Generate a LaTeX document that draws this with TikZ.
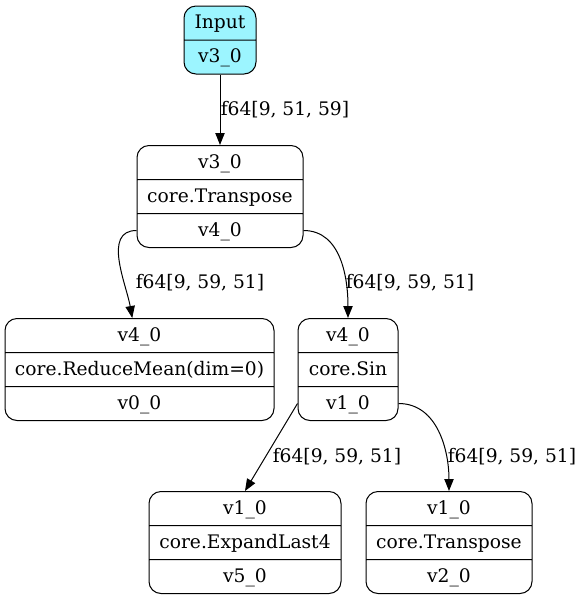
\documentclass[tikz,border=0pt]{standalone}
\usepackage{fontspec}
\setmainfont{DejaVu Serif}
\usetikzlibrary{arrows.meta,shapes.multipart,positioning}

\newcommand{\rs}{\rule[-8pt]{0pt}{24.75pt}}
\definecolor{inputcyan}{RGB}{156,245,255}

\tikzset{
    op/.style={rectangle split, rectangle split parts=3, draw, rounded corners=9pt,
        inner xsep=0pt, inner ysep=0pt, line width=0.75pt, align=center,
        font=\fontsize{14}{16}\selectfont},
    inp/.style={op, rectangle split parts=2, fill=inputcyan},
    flow/.style={-{Triangle[length=9pt,width=7pt]}, line width=0.75pt},
    shape lbl/.style={font=\fontsize{14}{16}\selectfont, inner sep=0pt}
}

\begin{document}
\begin{tikzpicture}[x=0.75pt,y=-0.75pt]
    \useasboundingbox (0,0) rectangle (582,601);
    \node[inp, minimum width=54pt]     (in)  at (220,40)    {\rs Input \nodepart{two}\rs v3\_0};
    \node[op, minimum width=124.5pt]   (tr)  at (220,196.5) {\rs v3\_0 \nodepart{two}\rs core.Transpose \nodepart{three}\rs v4\_0};
    \node[op, minimum width=201.75pt]  (rm)  at (139.5,369.5) {\rs v4\_0 \nodepart{two}\rs core.ReduceMean(dim=0) \nodepart{three}\rs v0\_0};
    \node[op, minimum width=75pt]      (sin) at (348,369.5) {\rs v4\_0 \nodepart{two}\rs core.Sin \nodepart{three}\rs v1\_0};
    \node[op, minimum width=144pt]     (ex)  at (245,542.5) {\rs v1\_0 \nodepart{two}\rs core.ExpandLast4 \nodepart{three}\rs v5\_0};
    \node[op, minimum width=124.5pt]   (tr2) at (449,542.5) {\rs v1\_0 \nodepart{two}\rs core.Transpose \nodepart{three}\rs v2\_0};

    \draw[flow] (in.south) -- (tr.north);
    \draw[flow] (tr.three west) to[out=180,in=100] (rm.98);
    \draw[flow] (tr.three east) to[out=0,in=90] (sin.north);
    \draw[flow] (sin.three west) -- (ex.north);
    \draw[flow] (sin.three east) to[out=0,in=90] (tr2.north);

    \node[shape lbl] (l1) at (285,110) {f64[9, 51, 59]};
    \node[shape lbl] (l2) at (200,283) {f64[9, 59, 51]};
    \node[shape lbl] (l3) at (410,283) {f64[9, 59, 51]};
    \node[shape lbl] (l4) at (337,457) {f64[9, 59, 51]};
    \node[shape lbl] (l5) at (512,457) {f64[9, 59, 51]};
\end{tikzpicture}
\end{document}
